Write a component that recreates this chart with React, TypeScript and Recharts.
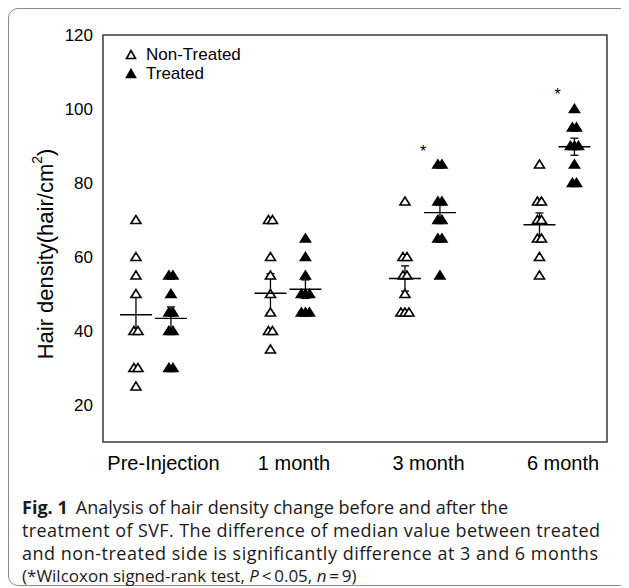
import React from 'react';
import { ScatterChart, Scatter, XAxis, YAxis, ReferenceArea, ErrorBar } from 'recharts';

// groups on the x axis
const categories = ['Pre-Injection', '1 month', '3 month', '6 month'];

// individual measurements, hair/cm2 (n = 9 per group)
const nonTreated = [
  [70, 60, 55, 50, 40, 40, 30, 30, 25],
  [70, 70, 60, 55, 50, 45, 40, 40, 35],
  [75, 60, 60, 55, 55, 50, 45, 45, 45],
  [85, 75, 75, 70, 70, 65, 65, 60, 55],
];
const treated = [
  [55, 55, 50, 45, 45, 40, 40, 30, 30],
  [65, 60, 55, 50, 50, 50, 45, 45, 45],
  [85, 85, 75, 75, 70, 70, 65, 65, 55],
  [100, 95, 95, 90, 90, 90, 85, 80, 80],
];

// mean and SEM as plotted
const meanNonTreated = [44.4, 50.2, 54.2, 68.7];
const semNonTreated = [5.1, 5.3, 3.4, 3.2];
const meanTreated = [43.4, 51.3, 72.0, 89.8];
const semTreated = [3.1, 2.5, 2.7, 2.3];

// significance marks (group index, height)
const starGroups = [2, 3];
const starValues = [89.5, 105];

const yTicks = [20, 40, 60, 80, 100, 120];

const X_MIN = 0.58;
const X_MAX = 4.327;
const NT_OFF = -0.175;
const T_OFF = 0.085;
const JITTER = 0.03;

const FONT = "'Liberation Sans', Arial, Helvetica, sans-serif";
const CAPTION_FONT = "'Open Sans', 'Noto Sans', sans-serif";

const spread = (groups: number[][], off: number) => {
  const out: { x: number; y: number }[] = [];
  groups.forEach((vals, gi) => {
    const counts: Record<number, number> = {};
    const seen: Record<number, number> = {};
    vals.forEach(v => (counts[v] = (counts[v] || 0) + 1));
    vals.forEach(v => {
      seen[v] = (seen[v] ?? -1) + 1;
      const j = (seen[v] - (counts[v] - 1) / 2) * JITTER;
      out.push({ x: gi + 1 + off + j, y: v });
    });
  });
  return out;
};

const ntPoints = spread(nonTreated, NT_OFF);
const tPoints = spread(treated, T_OFF);
const ntMeans = meanNonTreated.map((m, i) => ({ x: i + 1 + NT_OFF, y: m, sem: semNonTreated[i] }));
const tMeans = meanTreated.map((m, i) => ({ x: i + 1 + T_OFF, y: m, sem: semTreated[i] }));
const stars = starGroups.map((g, i) => ({ x: g + 1 - 0.04, y: starValues[i] }));

const Tri = ({ cx, cy, filled }: any) => (
  <polygon
    points={`${cx},${cy - 4.5} ${cx - 5},${cy + 3.5} ${cx + 5},${cy + 3.5}`}
    fill={filled ? '#000' : '#fff'}
    stroke="#000"
    strokeWidth={1.6}
    strokeLinejoin="miter"
  />
);

const MeanLine = ({ cx, cy }: any) => (
  <line x1={cx - 16} x2={cx + 16} y1={cy} y2={cy} stroke="#000" strokeWidth={1.4} />
);

const Star = ({ cx, cy }: any) => (
  <text x={cx} y={cy + 9} textAnchor="middle" fontSize={16} fontFamily={FONT} fill="#000">*</text>
);

const XTick = ({ x, y, payload, index }: any) => (
  <text
    x={x + (index === 0 ? 4 : 0)}
    y={y + 20}
    textAnchor="middle"
    fontSize={20}
    fontFamily={FONT}
    fill="#000"
  >
    {categories[payload.value - 1]}
  </text>
);

const yTitle = () => (
  <text
    x={37}
    y={246}
    transform="rotate(-90 37 246)"
    textAnchor="middle"
    dominantBaseline="central"
    fontSize={22}
    fontFamily={FONT}
    fill="#000"
  >
    Hair density(hair/cm<tspan dy={-8} fontSize={14}>2</tspan><tspan dy={8}>)</tspan>
  </text>
);

const LegendTri = ({ filled }: { filled: boolean }) => (
  <svg width={12} height={12} style={{ display: 'block' }}>
    <polygon points="6,1.5 1.5,9.5 10.5,9.5" fill={filled ? '#000' : '#fff'} stroke="#000" strokeWidth={1.6} />
  </svg>
);

export default function App() {
  return (
    <div style={{ position: 'relative', width: 621, height: 580, overflow: 'hidden', background: '#fff' }}>
      <div
        style={{
          position: 'absolute',
          left: 0,
          top: 0,
          width: 660,
          height: 578,
          border: '1.5px solid #8c8c8c',
          borderRadius: 10,
          boxSizing: 'border-box',
        }}
      />
      <div style={{ position: 'absolute', left: 0, top: 0 }}>
        <ScatterChart width={610} height={480} margin={{ top: 27, right: 11, bottom: 6, left: 0 }}>
          <XAxis
            type="number"
            dataKey="x"
            domain={[X_MIN, X_MAX]}
            ticks={[1, 2, 3, 4]}
            tick={<XTick />}
            axisLine={false}
            tickLine={false}
            height={40}
            allowDataOverflow
          />
          <YAxis
            type="number"
            dataKey="y"
            domain={[10, 120]}
            ticks={yTicks}
            width={95}
            axisLine={false}
            tickLine={false}
            tickSize={8}
            tick={{ fill: '#000', fontSize: 17, fontFamily: FONT }}
            label={yTitle}
            allowDataOverflow
          />
          <ReferenceArea
            x1={X_MIN}
            x2={X_MAX}
            y1={10}
            y2={120}
            fill="none"
            stroke="#3a3a3a"
            strokeWidth={1.5}
            ifOverflow="visible"
          />
          <Scatter data={ntPoints} shape={(p: any) => <Tri {...p} filled={false} />} isAnimationActive={false} />
          <Scatter data={tPoints} shape={(p: any) => <Tri {...p} filled />} isAnimationActive={false} />
          <Scatter data={ntMeans} shape={MeanLine} isAnimationActive={false}>
            <ErrorBar dataKey="sem" direction="y" width={4} stroke="#000" strokeWidth={1.3} />
          </Scatter>
          <Scatter data={tMeans} shape={MeanLine} isAnimationActive={false}>
            <ErrorBar dataKey="sem" direction="y" width={4} stroke="#000" strokeWidth={1.3} />
          </Scatter>
          <Scatter data={stars} shape={Star} isAnimationActive={false} />
        </ScatterChart>
      </div>

      <div style={{ position: 'absolute', left: 117, top: 37, fontFamily: FONT, fontSize: 17, color: '#000', lineHeight: '19px' }}>
        <div style={{ display: 'flex', alignItems: 'center', gap: 9 }}>
          <LegendTri filled={false} />
          <span>Non-Treated</span>
        </div>
        <div style={{ display: 'flex', alignItems: 'center', gap: 9 }}>
          <LegendTri filled />
          <span>Treated</span>
        </div>
      </div>

      <svg style={{ position: 'absolute', left: 0, top: 470 }} width={621} height={110}>
        <g fontFamily={CAPTION_FONT} fontSize={18} fill="#1a1a1a">
          <text x={14} y={36} textLength={486} lengthAdjust="spacing">
            <tspan fontWeight="bold">Fig. 1</tspan>
            <tspan dx={8}>Analysis of hair density change before and after the</tspan>
          </text>
          <text x={14} y={59} textLength={578} lengthAdjust="spacing">
            treatment of SVF. The difference of median value between treated
          </text>
          <text x={14} y={82} textLength={576} lengthAdjust="spacing">
            and non-treated side is significantly difference at 3 and 6 months
          </text>
          <text x={14} y={104} fontSize={17}>
            (*Wilcoxon signed-rank test, <tspan fontStyle="italic">P</tspan>{'\u2009<\u20090.05, '}
            <tspan fontStyle="italic">n</tspan>{'\u2009=\u20099)'}
          </text>
        </g>
      </svg>
    </div>
  );
}
